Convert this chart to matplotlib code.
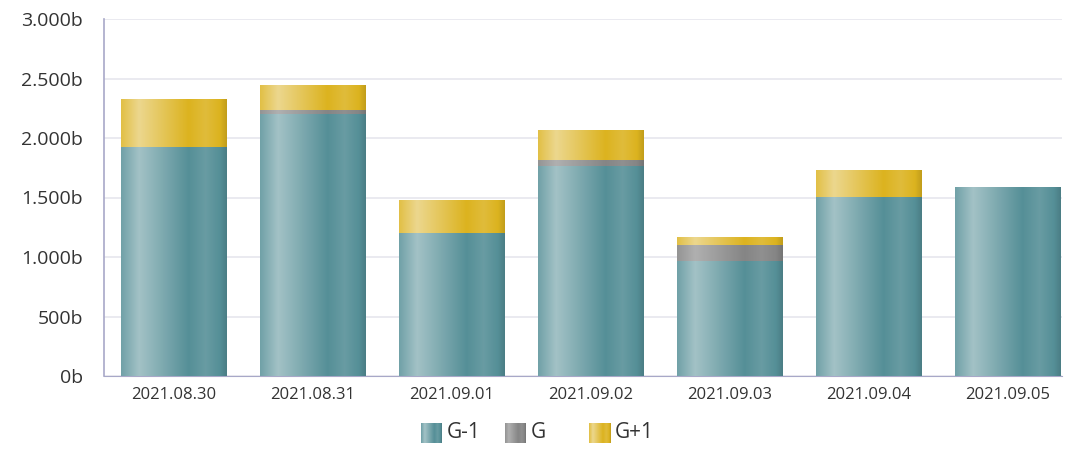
import matplotlib
matplotlib.use("Agg")
import matplotlib.pyplot as plt
import numpy as np
from matplotlib.colors import to_rgb

plt.rcParams['font.family'] = ['Open Sans', 'DejaVu Sans']

dates = ["2021.08.30", "2021.08.31", "2021.09.01", "2021.09.02",
         "2021.09.03", "2021.09.04", "2021.09.05"]
g_minus = [1924, 2202, 1202, 1765, 966, 1504, 1588]
g_zero = [0, 33, 0, 50, 135, 0, 0]
g_plus = [395, 202, 269, 244, 67, 219, 0]
series_names = ["G-1", "G", "G+1"]
yticks = [0, 500, 1000, 1500, 2000, 2500, 3000]
ytick_labels = ["0b", "500b", "1.000b", "1.500b", "2.000b", "2.500b", "3.000b"]

colors = {"G-1": ("#558f97", "#a3c2c6"),
          "G": ("#858585", "#b0b0b0"),
          "G+1": ("#dcb31f", "#ecd78e")}


def gradient_row(base, light, n=200):
    # horizontal shading: light band near the left, darker at the right edge
    pos = [0.0, 0.17, 0.64, 0.8, 1.0]
    mix = [0.35, 1.0, 0.0, 0.25, -0.12]
    t = np.linspace(0, 1, n)
    m = np.interp(t, pos, mix)
    b = np.array(to_rgb(base))
    l = np.array(to_rgb(light))
    out = []
    for v in m:
        if v >= 0:
            c = b + (l - b) * v
        else:
            c = b * (1 + v)
        out.append(np.clip(c, 0, 1))
    return np.array(out)[None, :, :]


W, H = 1070, 449
fig = plt.figure(figsize=(W / 100, H / 100), dpi=100)
ax = fig.add_axes([104 / W, 1 - 376 / H, 958 / W, 357 / H])

x = np.arange(len(dates))
width = 0.76
bottoms = np.zeros(len(dates))
for name, vals in zip(series_names, [g_minus, g_zero, g_plus]):
    vals = np.array(vals, dtype=float)
    bars = ax.bar(x, vals, width, bottom=bottoms, color='none', edgecolor='none', zorder=3)
    img = gradient_row(*colors[name])
    for rect in bars:
        if rect.get_height() <= 0:
            continue
        x0, y0 = rect.get_x(), rect.get_y()
        ax.imshow(img, extent=[x0, x0 + rect.get_width(), y0, y0 + rect.get_height()],
                  aspect='auto', zorder=3, interpolation='bilinear')
    bottoms += vals

ax.set_xlim(-0.5, 6.39)
ax.set_ylim(0, 3000)
ax.set_yticks(yticks)
ax.set_yticklabels(ytick_labels, fontsize=14, color='#333333')
ax.set_xticks(x)
ax.set_xticklabels(dates, fontsize=12, color='#333333')
ax.tick_params(axis='both', length=0)
ax.tick_params(axis='y', pad=15)
ax.tick_params(axis='x', pad=8)
ax.grid(axis='y', color='#e6e6ee', linewidth=1.2, zorder=0)
ax.set_axisbelow(True)
for s in ['top', 'right']:
    ax.spines[s].set_visible(False)
ax.spines['left'].set_color('#a8a8c8')
ax.spines['bottom'].set_color('#a8a8c8')
ax.spines['left'].set_linewidth(1.2)

# legend: fixed-width items like the original
legend_x = [421, 505, 589]
for name, lx in zip(series_names, legend_x):
    sw = fig.add_axes([lx / W, 1 - 443 / H, 21 / W, 20 / H])
    sw.imshow(gradient_row(*colors[name], n=40), aspect='auto', interpolation='bilinear')
    sw.axis('off')
    fig.text((lx + 26) / W, 1 - 433 / H, name, fontsize=15, color='#333333',
             ha='left', va='center')

fig.savefig("out.png", dpi=100)
